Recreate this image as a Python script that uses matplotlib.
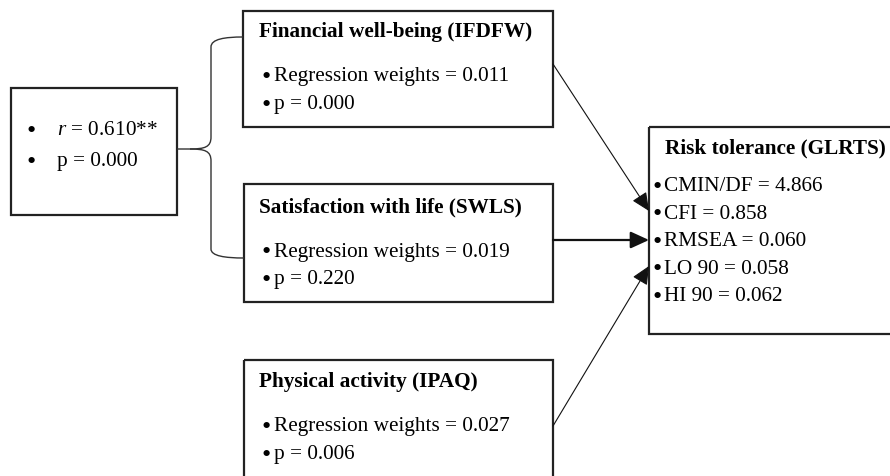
import matplotlib
matplotlib.use("Agg")
import matplotlib.pyplot as plt
from matplotlib.patches import Rectangle, PathPatch, FancyArrowPatch
from matplotlib.path import Path

plt.rcParams['font.family'] = ['Liberation Serif', 'DejaVu Serif']
plt.rcParams['mathtext.fontset'] = 'custom'
plt.rcParams['mathtext.rm'] = 'Liberation Serif'
plt.rcParams['mathtext.it'] = 'Liberation Serif:italic'

# text content
corr_lines = ["$r$ = 0.610**", "p = 0.000"]
pred_titles = ["Financial well-being (IFDFW)", "Satisfaction with life (SWLS)", "Physical activity (IPAQ)"]
pred_weights = ["0.011", "0.019", "0.027"]
pred_p = ["0.000", "0.220", "0.006"]
out_title = "Risk tolerance (GLRTS)"
out_stats = ["CMIN/DF = 4.866", "CFI = 0.858", "RMSEA = 0.060", "LO 90 = 0.058", "HI 90 = 0.062"]

W, H = 890, 477
fig = plt.figure(figsize=(W / 100, H / 100), dpi=100)
ax = fig.add_axes([0, 0, 1, 1])
ax.set_xlim(0, W)
ax.set_ylim(H, 0)
ax.axis("off")

FS = 15.3
BS = 19
edge = dict(fill=False, lw=1.6, ec="#222222")


def box(x0, y0, x1, y1):
    ax.add_patch(Rectangle((x0, y0), x1 - x0, y1 - y0, **edge))


def bullet(xb, xt, y, s):
    ax.text(xb, y + 1, "\u2022", fontsize=BS, va="center", ha="center")
    ax.text(xt, y, s, fontsize=FS, va="center")


# correlation box
box(11, 89, 177, 216)
for i, s in enumerate(corr_lines):
    bullet(31, 57, 131 + i * 31, s)

# predictor boxes
pred_boxes = [(243, 12, 553, 128), (244, 185, 553, 303), (244, 361, 553, 520)]
title_dy = [20, 22, 21]
for (x0, y0, x1, y1), t, w, p, dy in zip(pred_boxes, pred_titles, pred_weights, pred_p, title_dy):
    box(x0, y0, x1, y1)
    ax.text(259, y0 + dy, t, fontsize=FS, weight="bold", va="center")
    bullet(266, 274, y0 + dy + 45, "Regression weights = " + w)
    bullet(266, 274, y0 + dy + 73, "p = " + p)

# outcome box
box(649, 128, 900, 335)
ax.text(665, 148, out_title, fontsize=FS, weight="bold", va="center")
for i, s in enumerate(out_stats):
    bullet(657, 664, 187 + i * 27.5, s)

# brace joining the correlation box to the first two predictors
verts = [(177, 150), (190, 150),
         (205, 150), (211, 148), (211, 138),
         (211, 48),
         (211, 40), (225, 38), (243, 38)]
codes = [Path.MOVETO, Path.LINETO,
         Path.CURVE4, Path.CURVE4, Path.CURVE4,
         Path.LINETO,
         Path.CURVE4, Path.CURVE4, Path.CURVE4]
ax.add_patch(PathPatch(Path(verts, codes), fill=False, lw=1.0, ec="#333333"))
verts2 = [(190, 150),
          (205, 150), (211, 152), (211, 162),
          (211, 250),
          (211, 257), (225, 259), (244, 259)]
codes2 = [Path.MOVETO,
          Path.CURVE4, Path.CURVE4, Path.CURVE4,
          Path.LINETO,
          Path.CURVE4, Path.CURVE4, Path.CURVE4]
ax.add_patch(PathPatch(Path(verts2, codes2), fill=False, lw=1.0, ec="#333333"))

# paths into the outcome
arrows = [((553, 65), (649, 212), 0.8), ((553, 241), (649, 241), 1.6), ((553, 427), (649, 267), 0.8)]
for a, b, lw in arrows:
    ax.add_patch(FancyArrowPatch(a, b, arrowstyle="-|>,head_length=7,head_width=3.2",
                                 mutation_scale=1.6, lw=lw, color="#111111", shrinkA=0, shrinkB=0))

fig.savefig("out.png", dpi=100)
